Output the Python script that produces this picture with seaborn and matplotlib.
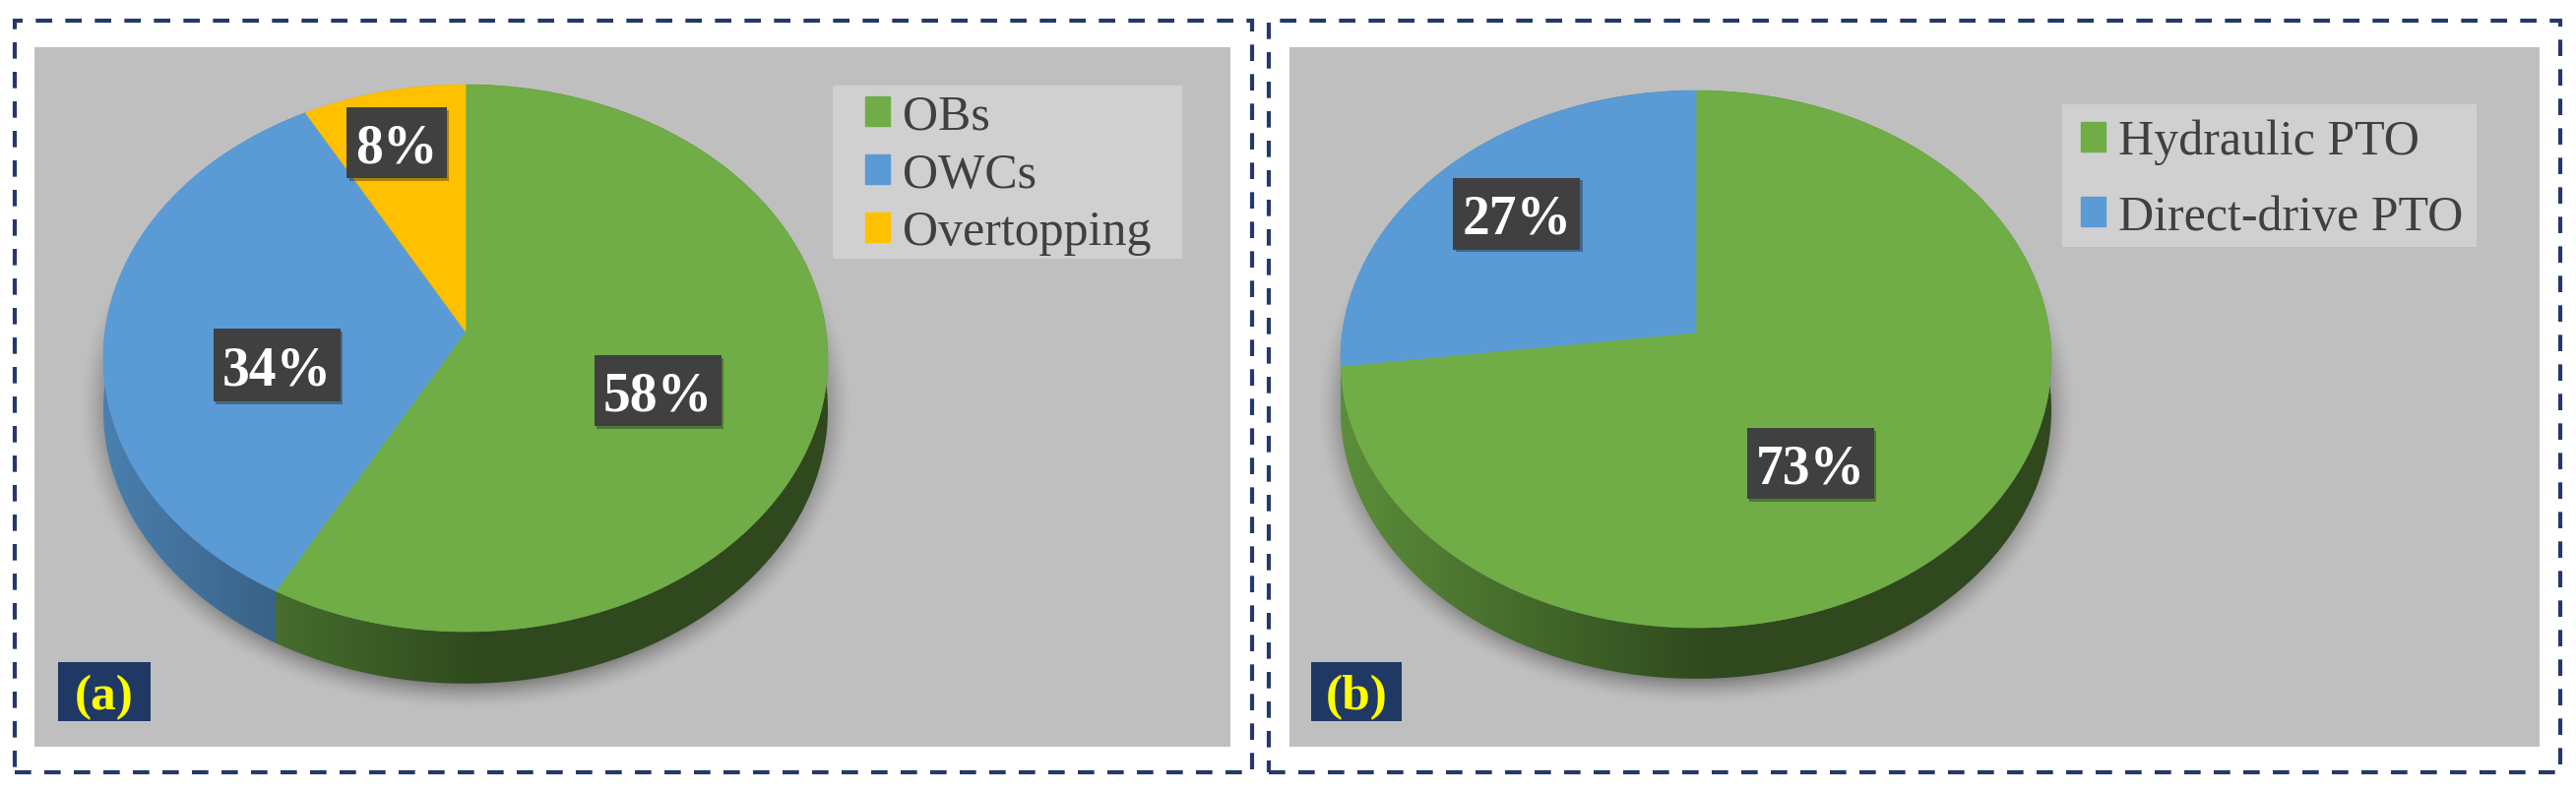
import numpy as np
import seaborn as sns
import matplotlib.pyplot as plt
import matplotlib.patheffects as pe
from matplotlib.patches import Polygon, Rectangle, Patch

W, H = 2617, 803

# Data
types_labels = ['OBs', 'OWCs', 'Overtopping']
types_values = [58, 34, 8]
types_colors = ['#70AD47', '#5B9BD5', '#FFC000']
pto_labels = ['Hydraulic PTO', 'Direct-drive PTO']
pto_values = [73, 27]
pto_colors = ['#70AD47', '#5B9BD5']

sns.set_theme(style='white')
plt.rcParams['font.family'] = ['Liberation Serif', 'DejaVu Serif']


def fx(x):
    return x / W


def fy(y):
    return 1 - y / H


def warp(theta, tilt):
    # perspective of the pie disc, the rim stays on the ellipse
    x, y = np.cos(theta), np.sin(theta)
    d = 1 + tilt * y
    return x * np.sqrt(1 - tilt ** 2) / d, (y + tilt) / d


def shade(x):
    return np.interp(x, [-1, -0.5, 0.05, 1], [0.82, 0.62, 0.42, 0.42])


def draw_panel(fig, frame, grey, pie_box, tilt, depth, values, labels, colors,
               label_boxes, legend_box, legend_at, row_gap, tag, tag_box):
    # dashed frame
    fig.add_artist(Rectangle((fx(frame[0]), fy(frame[3])), fx(frame[2] - frame[0]),
                             (frame[3] - frame[1]) / H, transform=fig.transFigure, fill=False,
                             edgecolor='#24386B', lw=3, ls=(0, (4, 3.2))))

    ax = fig.add_axes([fx(grey[0]), fy(grey[3]), fx(grey[2] - grey[0]), (grey[3] - grey[1]) / H])
    palette = sns.color_palette(colors)
    wedges, _ = ax.pie(values, colors=palette, startangle=90, counterclock=False)
    ax.set_aspect('auto')
    ax.set_frame_on(True)
    ax.set_facecolor('#BFBFBF')
    sns.despine(ax=ax, left=True, bottom=True)

    cx, cy, rx, ry = pie_box
    xlim = ((grey[0] - cx) / rx, (grey[2] - cx) / rx)
    ylim = ((cy - grey[3]) / ry, (cy - grey[1]) / ry)

    # soft shadow under the disc
    gx, gy = np.meshgrid(np.linspace(xlim[0], xlim[1], 500), np.linspace(ylim[0], ylim[1], 300))
    r = np.hypot(gx / 1.07, (gy + 0.18) / 1.11)
    shadow = np.zeros(gx.shape + (4,))
    shadow[..., 3] = 0.42 * np.clip((1 - r) / 0.1, 0, 1) ** 1.5
    ax.imshow(shadow, extent=[*xlim, *ylim], origin='lower', aspect='auto', zorder=0.5)

    for wedge, color in zip(wedges, palette):
        theta = np.radians(np.linspace(wedge.theta1, wedge.theta2, 200))
        px, py = warp(theta, tilt)

        # side wall with the light falling from the left
        wall = Polygon(np.r_[np.c_[px, py], np.c_[px, py - depth][::-1]], closed=True,
                       fc='none', ec='none', transform=ax.transData)
        ax.add_patch(wall)
        sx = np.linspace(-1.05, 1.05, 400)
        grad = np.outer(shade(sx), color)[None, :, :]
        im = ax.imshow(grad, extent=[-1.05, 1.05, -1.4, 1.1], aspect='auto', zorder=1)
        im.set_clip_path(wall)

        # top face
        top = Polygon(np.r_[[[0, tilt]], np.c_[px, py]], closed=True, fc=color, ec=color,
                      lw=0.5, zorder=2)
        ax.add_patch(top)
        wedge.remove()

    ax.set_xlim(xlim)
    ax.set_ylim(ylim)

    # percentage labels
    for value, (bx, by, bw, bh) in zip(values, label_boxes):
        fig.add_artist(Rectangle((fx(bx - bw / 2), fy(by + bh / 2)), bw / W, bh / H,
                                 transform=fig.transFigure, fc='#404040', ec='none',
                                 path_effects=[pe.withSimplePatchShadow(offset=(2, -2), alpha=0.35),
                                               pe.Normal()]))
        fig.text(fx(bx), fy(by), f'{value}%', color='white', fontsize=40, fontweight='bold',
                 ha='center', va='center_baseline')

    # legend on its own lighter box
    ax.add_patch(Rectangle((fx(legend_box[0]), fy(legend_box[3])), fx(legend_box[2] - legend_box[0]),
                           (legend_box[3] - legend_box[1]) / H, transform=fig.transFigure,
                           fc='#D0D0D0', ec='none', zorder=4))
    handles = [Patch(color=c, label=l) for c, l in zip(palette, labels)]
    leg = ax.legend(handles=handles, loc='upper left', bbox_to_anchor=(fx(legend_at[0]), fy(legend_at[1])),
                    bbox_transform=fig.transFigure, borderaxespad=0, fontsize=36, frameon=False,
                    handlelength=0.5, handleheight=0.55, handletextpad=0.26,
                    borderpad=0, labelspacing=row_gap, labelcolor='#404040')
    leg.set_zorder(5)

    # panel tag
    fig.add_artist(Rectangle((fx(tag_box[0]), fy(tag_box[3])), fx(tag_box[2] - tag_box[0]),
                             (tag_box[3] - tag_box[1]) / H, transform=fig.transFigure,
                             fc='#1F3864', ec='none'))
    fig.text(fx((tag_box[0] + tag_box[2]) / 2), fy((tag_box[1] + tag_box[3]) / 2), tag, color='#FFFF00',
             fontsize=37, fontweight='bold', ha='center', va='center_baseline')


fig = plt.figure(figsize=(W / 100, H / 100), dpi=100, facecolor='white')

draw_panel(fig, (15, 22, 1272, 786), (35, 49, 1250, 760), (473, 365, 368, 278), 0.097, 0.19,
           types_values, types_labels, types_colors,
           [(668, 398, 129, 72), (281, 372, 129, 74), (403, 146, 101, 72)],
           (846, 88, 1201, 264), (879, 96), 0.25, '(a)', (59, 674, 153, 734))

draw_panel(fig, (1289, 22, 2601, 786), (1310, 49, 2580, 760), (1723, 366, 361, 273), 0.099, 0.19,
           pto_values, pto_labels, pto_colors,
           [(1839, 472, 129, 72), (1541, 218, 129, 73)],
           (2095, 107, 2516, 252), (2114, 122), 0.6, '(b)', (1332, 674, 1424, 734))

plt.savefig('out.png', dpi=100)
